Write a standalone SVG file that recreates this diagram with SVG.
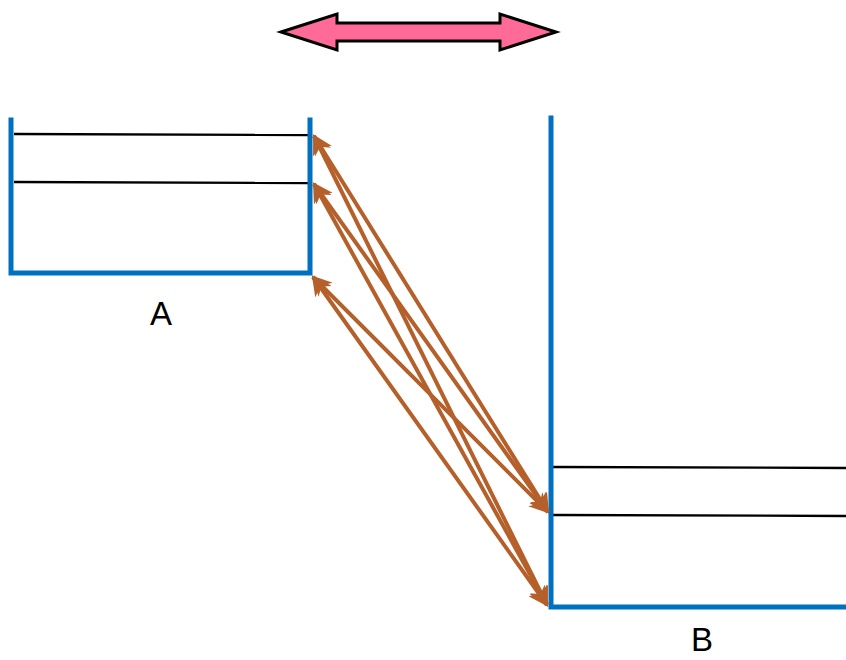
<svg xmlns="http://www.w3.org/2000/svg" width="846" height="660" viewBox="0 0 846 660">
<style>
.wall{stroke:#0070C0;stroke-width:5;fill:none;stroke-linecap:square}
.lvl{stroke:#000;stroke-width:2.3;fill:none}
.ray{stroke:#B5602A;stroke-width:4;fill:none}
.lbl{font-family:"Liberation Sans",Arial,sans-serif;font-size:33px;fill:#000;text-anchor:middle}
</style>
<defs>
<marker id="ah" viewBox="0 0 10 10" refX="9" refY="5" markerWidth="5" markerHeight="5" orient="auto-start-reverse" markerUnits="strokeWidth">
<path d="M0,0 L10,5 L0,10 L3,5 Z" fill="#B5602A"/>
</marker>
</defs>
<rect width="846" height="660" fill="#fff"/>
<g id="swap">
<path d="M281,32 L337,14 L337,23 L500,23 L500,14 L556,32 L500,50 L500,41 L337,41 L337,50 Z" fill="#FF6A98" stroke="#000" stroke-width="3" stroke-linejoin="miter"/>
</g>
<g id="A">
<line class="lvl" x1="14" y1="134" x2="308" y2="135"/>
<line class="lvl" x1="14" y1="182" x2="308" y2="183"/>
<path class="wall" d="M11,120 L11,273 L310,273 L310,120"/>
<text class="lbl" x="161" y="325">A</text>
</g>
<g id="B">
<line class="lvl" x1="553" y1="467" x2="846" y2="468"/>
<line class="lvl" x1="553" y1="515" x2="846" y2="516"/>
<path class="wall" d="M551,118 L551,607 L848,607"/>
<text class="lbl" x="702" y="651">B</text>
</g>
<g id="connectors">
<line class="ray" x1="314" y1="136" x2="548" y2="512" marker-start="url(#ah)" marker-end="url(#ah)"/>
<line class="ray" x1="314" y1="136" x2="547" y2="605" marker-start="url(#ah)" marker-end="url(#ah)"/>
<line class="ray" x1="314" y1="184" x2="548" y2="512" marker-start="url(#ah)" marker-end="url(#ah)"/>
<line class="ray" x1="314" y1="184" x2="547" y2="605" marker-start="url(#ah)" marker-end="url(#ah)"/>
<line class="ray" x1="313" y1="277" x2="548" y2="512" marker-start="url(#ah)" marker-end="url(#ah)"/>
<line class="ray" x1="313" y1="277" x2="547" y2="605" marker-start="url(#ah)" marker-end="url(#ah)"/>
</g>
</svg>
